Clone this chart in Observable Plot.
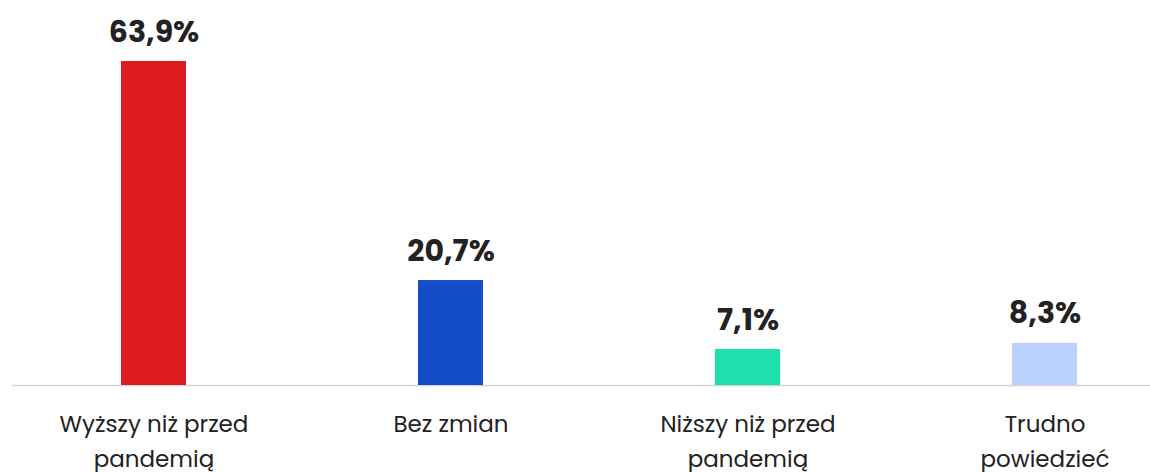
<!DOCTYPE html>
<html>
<head>
<meta charset="utf-8">
<script src="https://cdn.jsdelivr.net/npm/d3@7"></script>
<script src="https://cdn.jsdelivr.net/npm/@observablehq/plot@0.6"></script>
<style>
  html, body { margin: 0; padding: 0; background: #ffffff; }
  #chart svg { display: block; font-family: Poppins, Inter, sans-serif; }
</style>
</head>
<body>
<div id="chart"></div>
<script>
const categories = ["Wyższy niż przed\npandemią", "Bez zmian", "Niższy niż przed\npandemią", "Trudno\npowiedzieć"];
const values = [63.9, 20.7, 7.1, 8.3];
const valueLabels = ["63,9%", "20,7%", "7,1%", "8,3%"];
const colors = ["#dc1c1e", "#134dc9", "#1de0ae", "#b9d1fc"];

const data = categories.map((c, i) => ({category: c, value: values[i], label: valueLabels[i], color: colors[i]}));

const chart = Plot.plot({
  width: 1150,
  height: 472,
  marginLeft: 12,
  marginRight: 0,
  marginTop: 61,
  marginBottom: 87,
  style: {fontFamily: "Poppins, Inter, sans-serif", background: "#ffffff"},
  x: {domain: categories, paddingInner: 0.7814, paddingOuter: 0.3044, align: 0.597, axis: null},
  y: {domain: [0, d3.max(values)], axis: null},
  marks: [
    Plot.ruleY([0], {stroke: "#d4d4d4", strokeWidth: 1.5}),
    Plot.barY(data, {x: "category", y: "value", fill: "color"}),
    Plot.text(data, {x: "category", y: "value", text: "label", lineAnchor: "bottom", dy: -20,
      fontSize: 30, fontWeight: 700, fill: "#222222"}),
    Plot.text(data, {x: "category", y: 0, text: "category", lineAnchor: "top", dy: 22,
      fontSize: 23, lineHeight: 1.52, fill: "#222222"})
  ]
});
document.getElementById("chart").appendChild(chart);
</script>
</body>
</html>
